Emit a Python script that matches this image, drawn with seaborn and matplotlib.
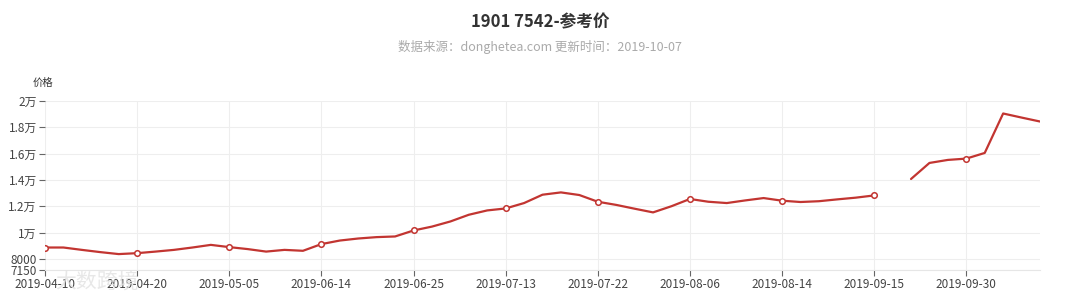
import numpy as np
import pandas as pd
import matplotlib
matplotlib.use("Agg")
import matplotlib.pyplot as plt
import seaborn as sns
from matplotlib.ticker import FuncFormatter

# ---- data ----
dates = [
    "2019-04-10", "2019-04-12", "2019-04-14", "2019-04-16", "2019-04-18", "2019-04-20",
    "2019-04-23", "2019-04-26", "2019-04-29", "2019-05-02", "2019-05-05",
    "2019-05-13", "2019-05-21", "2019-05-29", "2019-06-06", "2019-06-14",
    "2019-06-16", "2019-06-18", "2019-06-20", "2019-06-22", "2019-06-25",
    "2019-06-28", "2019-07-02", "2019-07-06", "2019-07-10", "2019-07-13",
    "2019-07-15", "2019-07-17", "2019-07-19", "2019-07-20", "2019-07-22",
    "2019-07-25", "2019-07-28", "2019-07-31", "2019-08-03", "2019-08-06",
    "2019-08-08", "2019-08-09", "2019-08-11", "2019-08-12", "2019-08-14",
    "2019-08-20", "2019-08-26", "2019-09-01", "2019-09-08", "2019-09-15",
    "2019-09-18", "2019-09-21", "2019-09-24", "2019-09-27", "2019-09-30",
    "2019-10-02", "2019-10-04", "2019-10-05", "2019-10-07",
]
prices = [
    8860, 8860, 8680, 8510, 8360, 8430,
    8550, 8680, 8860, 9060, 8890,
    8740, 8550, 8680, 8610, 9120,
    9390, 9545, 9650, 9700, 10155,
    10450, 10840, 11350, 11680, 11830,
    12240, 12875, 13050, 12850, 12340,
    12100, 11810, 11530, 12000, 12550,
    12340, 12240, 12440, 12620, 12420,
    12320, 12380, 12520, 12650, 12820,
    np.nan, 14070, 15290, 15520, 15620,
    16050, 19050, 18740, 18440,
]
y_ticks = [7150, 8000, 10000, 12000, 14000, 16000, 18000, 20000]

title = "1901 7542-参考价"
subtitle = "数据来源：donghetea.com 更新时间：2019-10-07"
y_name = "价格"
watermark = "大数跨境"

# ---- styling ----
sns.set_theme(style="white")
plt.rcParams["font.family"] = ["Noto Sans CJK SC", "DejaVu Sans"]
plt.rcParams["axes.unicode_minus"] = False

color = "#c23531"
df = pd.DataFrame({"idx": np.arange(len(dates)), "date": dates, "price": prices})
# segment id so that a missing value breaks the line
seg = df["price"].isna().cumsum()
df["seg"] = seg.astype(str)
df_line = df.dropna(subset=["price"])

fig = plt.figure(figsize=(10.8, 3.0), dpi=100)
ax = fig.add_axes([45 / 1080, 1 - 270 / 300, (1040 - 45) / 1080, (270 - 101) / 300])

sns.lineplot(data=df_line, x="idx", y="price", hue="seg",
             palette=[color] * df_line["seg"].nunique(), legend=False,
             linewidth=1.6, ax=ax, estimator=None, sort=True)

label_idx = list(range(0, len(dates), 5))
df_mark = df.iloc[label_idx].dropna(subset=["price"])
sns.scatterplot(data=df_mark, x="idx", y="price", ax=ax, s=16,
                facecolor="white", edgecolor=color, linewidth=1.1, zorder=5,
                legend=False)

ax.set_xlim(0, len(dates) - 1)
ax.set_ylim(7150, 20000)
ax.set_xticks(label_idx)
ax.set_xticklabels([dates[i] for i in label_idx])
ax.set_yticks(y_ticks)


def fmt(v, pos):
    if v >= 10000:
        return f"{v / 10000:g}万"
    return f"{int(v)}"


ax.yaxis.set_major_formatter(FuncFormatter(fmt))
ax.set_xlabel("")
ax.set_ylabel("")

ax.grid(True, color="#eeeeee", linewidth=0.8)
ax.set_axisbelow(True)
for s in ["top", "right", "left"]:
    ax.spines[s].set_visible(False)
ax.spines["bottom"].set_color("#e6e6e6")
ax.spines["bottom"].set_linewidth(0.8)

ax.tick_params(axis="both", which="both", length=4, width=0.8, color="#666666",
               labelsize=8.5, labelcolor="#444444", pad=2,
               left=True, bottom=True)

fig.text(540 / 1080, 1 - 22 / 300, title, ha="center", va="center",
         fontsize=12, fontweight="bold", color="#333333")
fig.text(540 / 1080, 1 - 47 / 300, subtitle, ha="center", va="center",
         fontsize=9, color="#aaaaaa")
fig.text(33 / 1080, 1 - 83 / 300, y_name, ha="left", va="center",
         fontsize=7.5, color="#333333")
fig.text(55 / 1080, 1 - 283 / 300, watermark, ha="left", va="center",
         fontsize=15, color="#e2e2e2", alpha=0.8, zorder=10)

fig.savefig("out.png", dpi=100)
